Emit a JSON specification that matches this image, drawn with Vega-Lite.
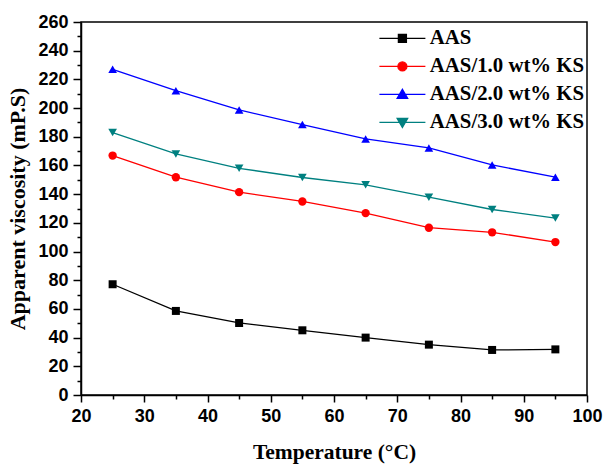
{
  "$schema": "https://vega.github.io/schema/vega-lite/v6.json",
  "width": 506,
  "height": 373,
  "autosize": {"type": "none"},
  "padding": {"left": 81, "top": 22, "right": 19, "bottom": 70},
  "background": "white",
  "config": {
    "view": {"stroke": "black", "strokeWidth": 1.5},
    "axis": {
      "labelFont": "Liberation Sans",
      "labelFontWeight": "bold",
      "labelFontSize": 18,
      "labelColor": "black",
      "titleFont": "Liberation Serif",
      "titleFontWeight": "bold",
      "titleColor": "black",
      "domainColor": "black",
      "domainWidth": 1.5,
      "tickColor": "black",
      "tickWidth": 1.5,
      "grid": false
    }
  },
  "data": {
    "values": [
      {"series": "AAS", "T": 25, "v": 77.2},
      {"series": "AAS", "T": 35, "v": 58.6},
      {"series": "AAS", "T": 45, "v": 50.2},
      {"series": "AAS", "T": 55, "v": 45.1},
      {"series": "AAS", "T": 65, "v": 40.0},
      {"series": "AAS", "T": 75, "v": 35.1},
      {"series": "AAS", "T": 85, "v": 31.4},
      {"series": "AAS", "T": 95, "v": 31.8},
      {"series": "AAS/1.0 wt% KS", "T": 25, "v": 166.9},
      {"series": "AAS/1.0 wt% KS", "T": 35, "v": 151.8},
      {"series": "AAS/1.0 wt% KS", "T": 45, "v": 141.4},
      {"series": "AAS/1.0 wt% KS", "T": 55, "v": 134.9},
      {"series": "AAS/1.0 wt% KS", "T": 65, "v": 126.8},
      {"series": "AAS/1.0 wt% KS", "T": 75, "v": 116.6},
      {"series": "AAS/1.0 wt% KS", "T": 85, "v": 113.4},
      {"series": "AAS/1.0 wt% KS", "T": 95, "v": 106.6},
      {"series": "AAS/2.0 wt% KS", "T": 25, "v": 227.0},
      {"series": "AAS/2.0 wt% KS", "T": 35, "v": 212.1},
      {"series": "AAS/2.0 wt% KS", "T": 45, "v": 198.7},
      {"series": "AAS/2.0 wt% KS", "T": 55, "v": 188.5},
      {"series": "AAS/2.0 wt% KS", "T": 65, "v": 178.5},
      {"series": "AAS/2.0 wt% KS", "T": 75, "v": 172.2},
      {"series": "AAS/2.0 wt% KS", "T": 85, "v": 160.4},
      {"series": "AAS/2.0 wt% KS", "T": 95, "v": 151.8},
      {"series": "AAS/3.0 wt% KS", "T": 25, "v": 182.9},
      {"series": "AAS/3.0 wt% KS", "T": 35, "v": 168.0},
      {"series": "AAS/3.0 wt% KS", "T": 45, "v": 158.0},
      {"series": "AAS/3.0 wt% KS", "T": 55, "v": 151.6},
      {"series": "AAS/3.0 wt% KS", "T": 65, "v": 146.5},
      {"series": "AAS/3.0 wt% KS", "T": 75, "v": 137.9},
      {"series": "AAS/3.0 wt% KS", "T": 85, "v": 129.3},
      {"series": "AAS/3.0 wt% KS", "T": 95, "v": 123.3}
    ]
  },
  "resolve": {"axis": {"x": "independent", "y": "independent"}},
  "layer": [
    {
      "mark": {"type": "line", "strokeWidth": 1.3},
      "encoding": {
        "x": {"field": "T", "type": "quantitative",
              "scale": {"domain": [20, 100], "nice": false, "zero": false},
              "axis": {"orient": "bottom", "values": [20,30,40,50,60,70,80,90,100], "tickSize": 7, "labelPadding": 5, "title": "Temperature (°C)", "titleFontSize": 21.5, "titlePadding": 16, "labelFlush": false}},
        "y": {"field": "v", "type": "quantitative",
              "scale": {"domain": [0, 260], "nice": false},
              "axis": {"orient": "left", "values": [0,20,40,60,80,100,120,140,160,180,200,220,240,260], "tickSize": 8, "labelPadding": 5, "title": "Apparent viscosity (mP.S)", "titleFontSize": 22, "titlePadding": 8, "labelFlush": false}},
        "color": {"field": "series", "type": "nominal",
                  "scale": {"domain": ["AAS", "AAS/1.0 wt% KS", "AAS/2.0 wt% KS", "AAS/3.0 wt% KS"], "range": ["#000000", "#ff0000", "#0000ff", "#008080"]},
                  "legend": {
                    "title": null, "orient": "none", "legendX": 311, "legendY": 6,
                    "symbolSize": 100, "labelOffset": 17, "rowPadding": 6, "padding": 0,
                    "labelFont": "Liberation Serif", "labelFontWeight": "bold", "labelFontSize": 20.8, "labelColor": "black", "labelLimit": 300,
                    "encode": {"symbols": {"update": {
                      "shape": {"signal": "datum.value === 'AAS' ? 'M-4.6,0H4.6M-0.8,-0.8H0.8V0.8H-0.8Z' : datum.value === 'AAS/1.0 wt% KS' ? 'M-4.6,0H4.6M-0.9,0A0.9,0.9 0 1,0 0.9,0A0.9,0.9 0 1,0 -0.9,0Z' : datum.value === 'AAS/2.0 wt% KS' ? 'M-4.6,0H4.6M0,-1L1.05,0.8L-1.05,0.8Z' : 'M-4.6,0H4.6M0,1L1.05,-0.8L-1.05,-0.8Z'"},
                      "fill": {"scale": "color", "field": "value"},
                      "stroke": {"scale": "color", "field": "value"},
                      "strokeWidth": {"value": 1.3},
                      "opacity": {"value": 1}
                    }}}
                  }},
        "detail": {"field": "series"}
      }
    },
    {
      "transform": [{"filter": "datum.series === 'AAS'"}],
      "mark": {"type": "point", "filled": true, "opacity": 1, "size": 64, "shape": "square"},
      "encoding": {
        "x": {"field": "T", "type": "quantitative", "axis": null},
        "y": {"field": "v", "type": "quantitative", "axis": null},
        "color": {"field": "series", "type": "nominal"}
      }
    },
    {
      "transform": [{"filter": "datum.series === 'AAS/1.0 wt% KS'"}],
      "mark": {"type": "point", "filled": true, "opacity": 1, "size": 70, "shape": "circle"},
      "encoding": {
        "x": {"field": "T", "type": "quantitative", "axis": null},
        "y": {"field": "v", "type": "quantitative", "axis": null},
        "color": {"field": "series", "type": "nominal"}
      }
    },
    {
      "transform": [{"filter": "datum.series === 'AAS/2.0 wt% KS'"}],
      "mark": {"type": "point", "filled": true, "opacity": 1, "size": 75, "shape": "triangle-up"},
      "encoding": {
        "x": {"field": "T", "type": "quantitative", "axis": null},
        "y": {"field": "v", "type": "quantitative", "axis": null},
        "color": {"field": "series", "type": "nominal"}
      }
    },
    {
      "transform": [{"filter": "datum.series === 'AAS/3.0 wt% KS'"}],
      "mark": {"type": "point", "filled": true, "opacity": 1, "size": 75, "shape": "triangle-down"},
      "encoding": {
        "x": {"field": "T", "type": "quantitative", "axis": null},
        "y": {"field": "v", "type": "quantitative", "axis": null},
        "color": {"field": "series", "type": "nominal"}
      }
    },
    {
      "mark": {"type": "point", "opacity": 0},
      "encoding": {
        "x": {"field": "T", "type": "quantitative",
              "axis": {"orient": "bottom", "values": [25,35,45,55,65,75,85,95], "tickSize": 4, "labels": false, "domain": false, "title": null}},
        "y": {"field": "v", "type": "quantitative",
              "axis": {"orient": "left", "values": [10,30,50,70,90,110,130,150,170,190,210,230,250], "tickSize": 4, "labels": false, "domain": false, "title": null}}
      }
    }
  ]
}
